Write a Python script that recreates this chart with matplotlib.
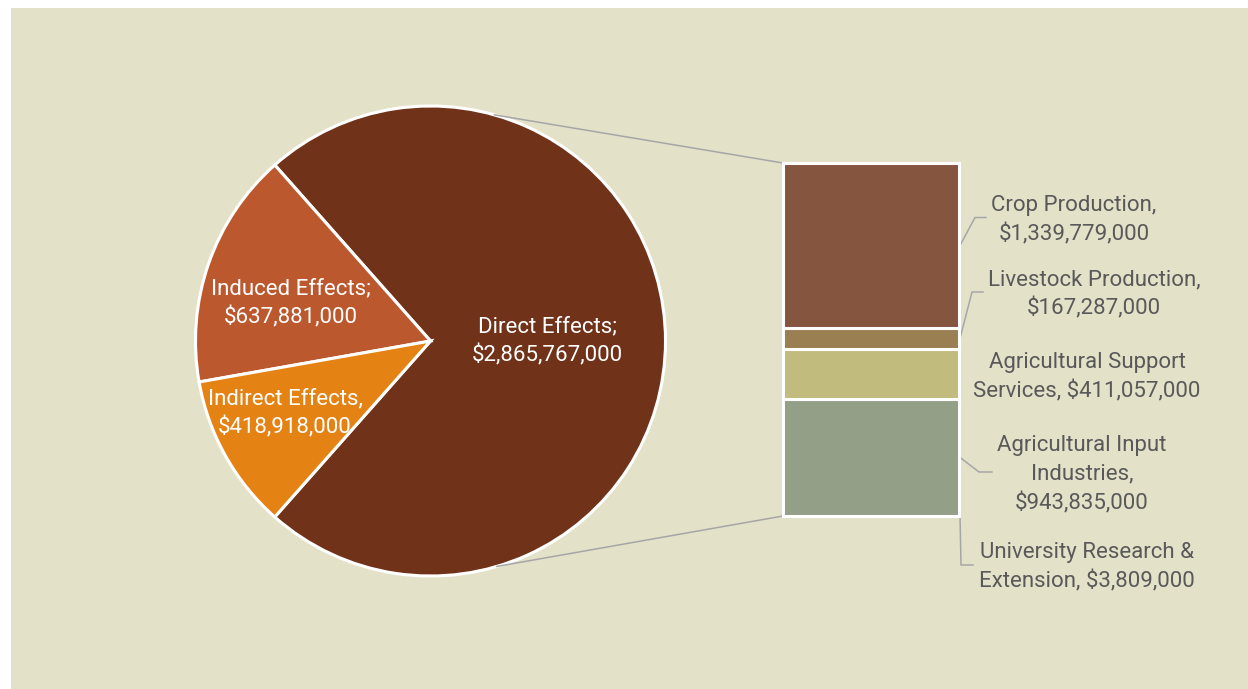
import matplotlib
matplotlib.use("Agg")
import matplotlib.pyplot as plt
from matplotlib.patches import Rectangle
import numpy as np

plt.rcParams['font.family'] = ['Roboto', 'DejaVu Sans']

# Economic impact, split by effect type
effect_labels = ["Direct Effects", "Induced Effects", "Indirect Effects"]
effect_values = [2865767000, 637881000, 418918000]
effect_seps = [";", ";", ","]
effect_colors = ["#70331A", "#BC582E", "#E48214"]

# Breakdown of the direct effects
sector_labels = ["Crop Production", "Livestock Production",
                 "Agricultural Support Services", "Agricultural Input Industries",
                 "University Research & Extension"]
sector_values = [1339779000, 167287000, 411057000, 943835000, 3809000]
sector_colors = ["#85553F", "#9A7F53", "#C2BB7E", "#939F87", "#8C8C8C"]
sector_text = ["Crop Production,\n$1,339,779,000",
               "Livestock Production,\n$167,287,000",
               "Agricultural Support\nServices, $411,057,000",
               "Agricultural Input\nIndustries,\n$943,835,000",
               "University Research &\nExtension, $3,809,000"]

W, H = 1248, 689
fig = plt.figure(figsize=(W / 100, H / 100), dpi=100)
fig.patch.set_facecolor("white")

ax = fig.add_axes([0, 0, 1, 1])
ax.set_xlim(0, W)
ax.set_ylim(0, H)
ax.axis("off")

# chart area background
ax.add_patch(Rectangle((11, 0), W - 11, H - 8, facecolor="#E4E1C9",
                       edgecolor="none", zorder=0))

cx, cy, r = 430.5, H - 341, 235
total = sum(effect_values)
start = -effect_values[0] / total * 360 / 2
wedges, _ = ax.pie(effect_values, colors=effect_colors, startangle=start,
                   center=(cx, cy), radius=r, counterclock=True,
                   wedgeprops=dict(edgecolor="white", linewidth=2.2))
ax.set_xlim(0, W)
ax.set_ylim(0, H)
ax.set_aspect("equal")

FS = 16
LS = 1.45
DY = 2.5  # vertical nudge for centred multi-line labels

fmt = lambda v: "${:,}".format(v)
pie_text_pos = [(547, 339), (291, 301), (285, 411)]
for lab, v, sep, (tx, ty) in zip(effect_labels, effect_values, effect_seps, pie_text_pos):
    ax.text(tx, H - ty - DY, f"{lab}{sep}\n{fmt(v)}", ha="center", va="center",
            color="white", fontsize=FS, linespacing=LS, zorder=5)

# stacked bar for the direct-effect breakdown
bx0, bx1, by0, by1 = 783, 959, H - 516, H - 163
bx = fig.add_axes([bx0 / W, by0 / H, (bx1 - bx0) / W, (by1 - by0) / H])
bx.set_xlim(-0.5, 0.5)
bx.set_ylim(0, sum(sector_values))
bx.axis("off")
bottom = 0
mids = []
for v, c in zip(reversed(sector_values), reversed(sector_colors)):
    bx.bar(0, v, bottom=bottom, width=1.0, color=c, edgecolor="white",
           linewidth=2.2, clip_on=False)
    mids.append(bottom + v / 2)
    bottom += v
mids = list(reversed(mids))

# series lines from the pie to the bar ends
for ang, ytop in [(74.2, by1), (-73.6, by0)]:
    a = np.deg2rad(ang)
    ax.plot([cx + r * np.cos(a), bx0], [cy + r * np.sin(a), ytop],
            color="#A6A6A6", lw=1.1, zorder=1)

def bar_to_ax(yval):
    disp = bx.transData.transform((0.5, yval))
    return ax.transData.inverted().transform(disp)

label_pos = [(1074, 217.5), (1094, 292), (1087, 375), (1082, 472), (1087, 565)]
elbow_x = [975, 972, None, 979, 961]
elbow_end = [986, 983, None, 992, 973]
for i, (txt, (tx, ty)) in enumerate(zip(sector_text, label_pos)):
    ax.text(tx, H - ty - DY, txt, ha="center", va="center", color="#595959",
            fontsize=FS, linespacing=LS, zorder=5)
    if elbow_x[i] is None:
        continue
    sx, sy = bar_to_ax(mids[i])
    ax.plot([sx + 1, elbow_x[i], elbow_end[i]], [sy, H - ty, H - ty],
            color="#A6A6A6", lw=1.1, zorder=4)

fig.savefig("out.png", dpi=100, facecolor=fig.get_facecolor())
